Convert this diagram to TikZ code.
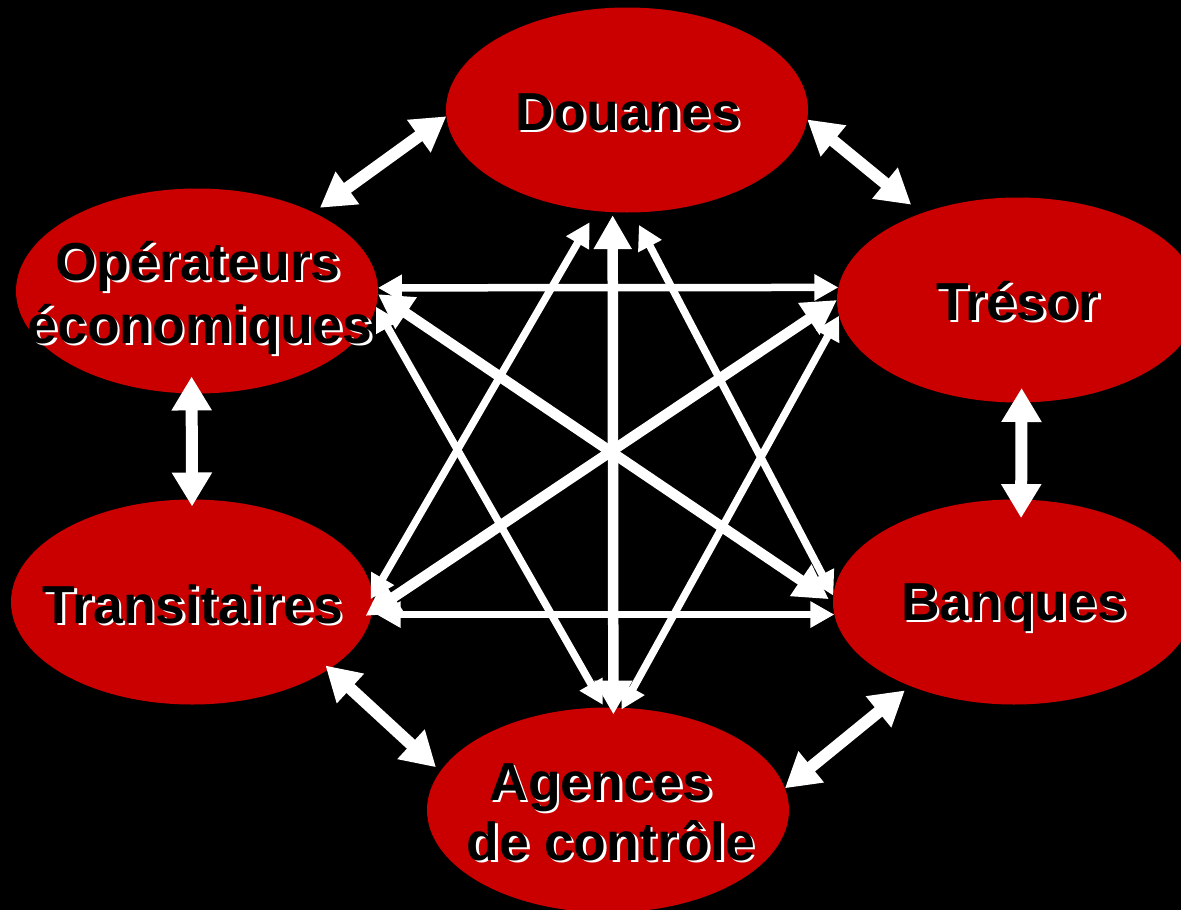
\documentclass[tikz,border=0pt]{standalone}
\usepackage{fontspec}
\setmainfont{Liberation Sans}
\usetikzlibrary{shapes.geometric,arrows.meta,calc}
\definecolor{ored}{RGB}{202,0,0}
\newcommand{\shlabel}[3]{%
  \node[lbl,text=white] (#1-sh) at ($#2+(2.5,2.5)$) {#3};
  \node[lbl] (#1) at #2 {#3};}
\begin{document}
\begin{tikzpicture}[x=1pt,y=-1pt,
  oval/.style={ellipse,fill=ored,draw=none,minimum width=362pt,minimum height=205pt,inner sep=0pt,outer sep=0pt},
  lbl/.style={anchor=base,inner sep=0pt,font=\bfseries\fontsize{53.5}{62}\selectfont,text=black},
  big/.style={white,line width=12pt,{Triangle[width=38pt,length=34pt]}-{Triangle[width=38pt,length=34pt]}},
  mid/.style={white,line width=10.5pt,{Triangle[width=36pt,length=34pt]}-{Triangle[width=36pt,length=34pt]}},
  thin/.style={white,line width=7.5pt,{Triangle[width=25pt,length=24pt]}-{Triangle[width=25pt,length=24pt]}}]
\fill[black] (0,0) rectangle (1181,910);
\useasboundingbox (0,0) rectangle (1181,910);
% ellipses
\node[oval] (dou) at (627,110) {};
\node[oval] (ope) at (197,291) {};
\node[oval] (tre) at (1018,300) {};
\node[oval] (ban) at (1014,602) {};
\node[oval] (tra) at (192,602) {};
\node[oval] (age) at (608,810) {};
% outer arrows
\draw[big,shorten >=8pt] (dou.182.2) -- (ope.34.8);
\draw[big,shorten >=13.5pt] (dou.-3.8) -- (tre.138.9);
\draw[big,shorten <=-17pt,shorten >=-7pt] (ope.-93) -- (tra.90);
\draw[big,shorten <=-14.5pt,shorten >=-18.5pt] (tre.-88.3) -- (ban.86.1);
\draw[big,shorten <=-5pt,shorten >=6pt] (tra.-26.9) -- (age.167);
\draw[big,shorten <=7pt] (ban.-141.6) -- (age.7.5);
% inner arrows
\draw[thin] (ope.1.25) -- (tre.176.2);
\draw[thin,shorten <=5pt] (tra.-4.3) -- (ban.184.1);
\draw[mid,shorten <=3pt,shorten >=-7pt] (dou.-98.2) -- (age.87.6);
\draw[mid,shorten >=5pt] (ope.-1.6) -- (ban.180.3);
\draw[mid,shorten <=-8pt] (tra.-3) -- (tre.180.9);
\draw[thin,shorten >=3pt] (ope.-5.1) -- (age.92.2);
\draw[thin,shorten >=14pt] (ban.178.7) -- (dou.-87.1);
\draw[thin,shorten <=-4pt,shorten >=13pt] (tra.2.9) -- (dou.-107.1);
\draw[thin,shorten >=-2pt] (tre.185.5) -- (age.82);
% labels
\shlabel{douT}{(628,130)}{Douanes}
\shlabel{opeT1}{(198,280)}{Opérateurs}
\shlabel{opeT2}{(200,343)}{économiques}
\shlabel{treT}{(1018,320)}{Trésor}
\shlabel{banT}{(1014,620)}{Banques}
\shlabel{traT}{(193,623)}{Transitaires}
\shlabel{ageT1}{(601,800)}{Agences}
\shlabel{ageT2}{(611,860)}{de contrôle}
\end{tikzpicture}
\end{document}
